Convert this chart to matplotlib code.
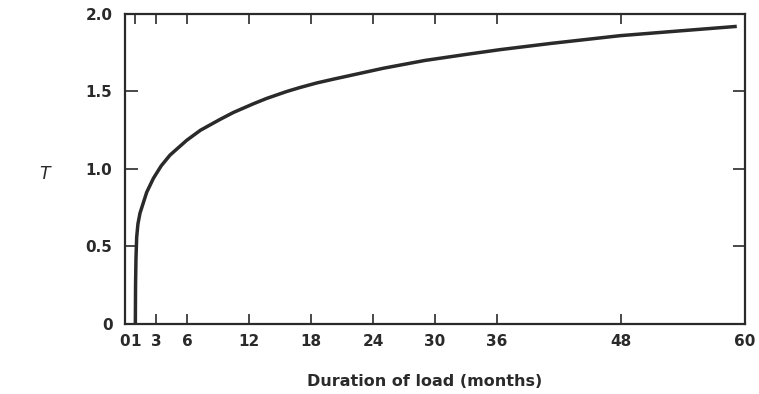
import matplotlib
matplotlib.use("Agg")
import matplotlib.pyplot as plt

# Data
months = [1.0, 1.02, 1.06, 1.13, 1.25, 1.45, 2.1, 2.75, 3.5, 4.36, 5.97, 7.3, 9.2,
          10.5, 12.4, 13.7, 15.65, 16.9, 18.55, 20.2, 25.0, 29.0, 33.1, 36.3, 41.2,
          47.9, 53.5, 59.2]
T = [0.0, 0.25, 0.42, 0.56, 0.645, 0.715, 0.85, 0.94, 1.02, 1.09, 1.185, 1.25, 1.32,
     1.365, 1.42, 1.455, 1.50, 1.525, 1.555, 1.58, 1.65, 1.70, 1.74, 1.77, 1.81,
     1.86, 1.89, 1.92]

xticks = [0, 1, 3, 6, 12, 18, 24, 30, 36, 48, 60]
xticklabels = ["0", "1", "3", "6", "12", "18", "24", "30", "36", "48", "60"]
yticks = [0, 0.5, 1.0, 1.5, 2.0]
yticklabels = ["0", "0.5", "1.0", "1.5", "2.0"]

ink = "#2a2a2a"
plt.rcParams['font.family'] = ['DejaVu Sans']

fig = plt.figure(figsize=(7.59, 3.94), dpi=100)
ax = fig.add_axes([0.1647, 0.1777, 0.8169, 0.7868])

ax.plot(months, T, color=ink, lw=2.5, solid_capstyle='butt', solid_joinstyle='round')

ax.set_xlim(0, 60)
ax.set_ylim(0, 2.0)
ax.set_xticks(xticks)
ax.set_xticklabels(xticklabels)
ax.set_yticks(yticks)
ax.set_yticklabels(yticklabels)

for s in ax.spines.values():
    s.set_linewidth(1.6)
    s.set_color(ink)

ax.tick_params(axis='x', direction='in', length=7, width=1.2, color=ink,
               top=True, labelsize=11, labelcolor=ink, pad=7)
ax.tick_params(axis='y', direction='in', length=9, width=1.2, color=ink,
               right=True, labelsize=11, labelcolor=ink, pad=9)
for lab in ax.get_xticklabels() + ax.get_yticklabels():
    lab.set_fontweight('bold')

fig.text(425 / 759, 1 - 381 / 394, "Duration of load (months)", fontsize=11.5,
         fontweight='bold', color=ink, ha='center', va='center')
fig.text(45 / 759, 1 - 174 / 394, "T", fontsize=12.5, style='italic', color=ink,
         ha='center', va='center')

fig.savefig("out.png", dpi=100)
